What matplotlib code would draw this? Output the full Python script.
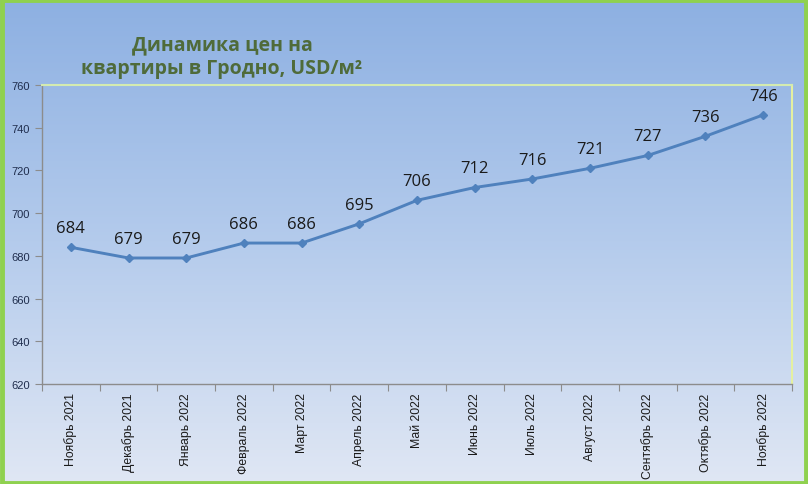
import matplotlib
matplotlib.use("Agg")
import matplotlib.pyplot as plt
import numpy as np
from matplotlib.patches import Rectangle
from matplotlib.colors import LinearSegmentedColormap

months = ["Ноябрь 2021", "Декабрь 2021", "Январь 2022", "Февраль 2022", "Март 2022",
          "Апрель 2022", "Май 2022", "Июнь 2022", "Июль 2022", "Август 2022",
          "Сентябрь 2022", "Октябрь 2022", "Ноябрь 2022"]
prices = [684, 679, 679, 686, 686, 695, 706, 712, 716, 721, 727, 736, 746]
yticks = [620, 640, 660, 680, 700, 720, 740, 760]
title = "Динамика цен на\nквартиры в Гродно, USD/м²"

W, H = 808, 485
fig = plt.figure(figsize=(W / 100, H / 100), dpi=100)

# background gradient
bg = fig.add_axes([0, 0, 1, 1], zorder=-10)
cmap = LinearSegmentedColormap.from_list("bg", ["#8db0e2", "#b4cbec", "#e0e7f4"])
grad = np.linspace(0, 1, 256).reshape(-1, 1)
bg.imshow(grad, aspect="auto", cmap=cmap, extent=[0, 1, 0, 1], origin="upper")
bg.set_axis_off()

ax = fig.add_axes([42 / W, 1 - 385 / H, (792 - 42) / W, (385 - 86) / H])
ax.set_facecolor("none")

x = np.arange(len(months))
ax.plot(x, prices, color="#4f81bd", lw=2.1, marker="D", ms=4.5,
        markerfacecolor="#4f81bd", markeredgecolor="#4f81bd", zorder=3)
for xi, v in zip(x, prices):
    ax.annotate(str(v), (xi, v), xytext=(0, 8), textcoords="offset points",
                ha="center", va="bottom", fontsize=12, color="#1a1a1a",
                family="Open Sans")

ax.set_xlim(-0.5, len(months) - 0.5)
ax.set_ylim(620, 760)
ax.set_yticks(yticks)
ax.set_yticklabels([str(t) for t in yticks], fontsize=8, color="#1f2d4d",
                   family="Liberation Sans")
ax.tick_params(axis="y", direction="out", length=5, color="#8c8c8c", pad=4)

ax.set_xticks(np.arange(-0.5, len(months), 1.0))
ax.set_xticklabels([])
ax.tick_params(axis="x", which="major", direction="out", length=5, color="#8c8c8c")
ax.set_xticks(x, minor=True)
ax.set_xticklabels(months, minor=True, rotation=90, fontsize=8.8, color="#1a1a1a",
                   family="Liberation Sans", va="top", ha="center")
ax.tick_params(axis="x", which="minor", length=0, pad=6)

for s in ["left", "bottom"]:
    ax.spines[s].set_color("#8c8c8c")
    ax.spines[s].set_linewidth(1.0)
ax.spines["top"].set_color("#d4ebb0")
ax.spines["top"].set_linewidth(1.5)
ax.spines["right"].set_color("#e4f0a0")
ax.spines["right"].set_linewidth(1.5)

fig.text(222 / W, 1 - 57 / H, title, ha="center", va="center", fontsize=14,
         fontweight="bold", color="#4f6b3a", family="Open Sans", linespacing=1.25)

fig.patches.append(Rectangle((0.002, 0.003), 0.995, 0.994, transform=fig.transFigure,
                             fill=False, edgecolor="#8fd14f", lw=3.5, zorder=10))

fig.savefig("out.png", dpi=100)
